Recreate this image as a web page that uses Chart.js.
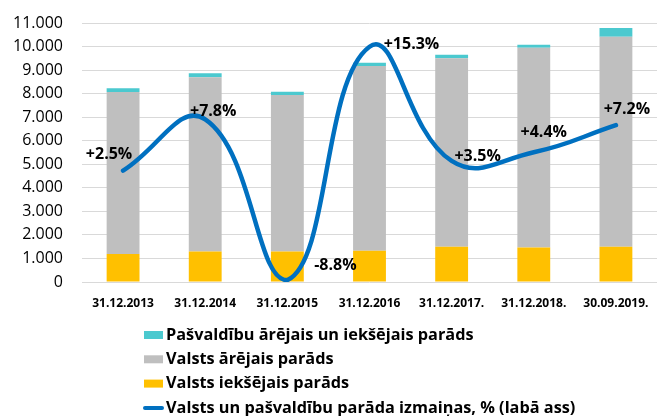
<!DOCTYPE html>
<html>
<head>
<meta charset="utf-8">
<script src="https://cdn.jsdelivr.net/npm/chart.js@4.4.1/dist/chart.umd.min.js"></script>
<style>
  html, body { margin: 0; padding: 0; background: #fff; }
  #wrap { position: relative; width: 657px; height: 416px; }
</style>
</head>
<body>
<div id="wrap"><canvas id="debt"></canvas></div>
<script>
// values in million EUR
const labels = ['31.12.2013', '31.12.2014', '31.12.2015', '31.12.2016', '31.12.2017.', '31.12.2018.', '30.09.2019.']
const domestic = [1190, 1300, 1300, 1330, 1500, 1460, 1500]
const external = [6880, 7400, 6640, 7840, 8000, 8490, 8920]
const municipal = [155, 170, 140, 140, 150, 125, 370]
const change = [2.5, 7.8, -8.8, 15.3, 3.5, 4.4, 7.2]
const yTicks = [0, 1000, 2000, 3000, 4000, 5000, 6000, 7000, 8000, 9000, 10000, 11000]

const colors = {
  yellow: '#ffc000',
  gray: '#bfbfbf',
  cyan: '#4bc9cf',
  blue: '#0070c0'
}
const font = "'Open Sans', sans-serif"

// where each % label sits relative to its point
const labelOffsets = [[-14, -16], [8, -8], [48, -15], [42, -2], [26, -5], [10, -20], [11, -16]]

const pctLabels = {
  id: 'pctLabels',
  afterDatasetsDraw(chart) {
    const ctx = chart.ctx
    const meta = chart.getDatasetMeta(0)
    ctx.save()
    ctx.font = `bold 16px ${font}`
    ctx.fillStyle = '#000'
    ctx.textAlign = 'center'
    ctx.textBaseline = 'middle'
    meta.data.forEach((pt, i) => {
      const v = change[i]
      const txt = (v > 0 ? '+' : '') + v.toFixed(1) + '%'
      ctx.fillText(txt, pt.x + labelOffsets[i][0], pt.y + labelOffsets[i][1])
    })
    ctx.restore()
  }
}

const bottomLegend = {
  id: 'bottomLegend',
  afterDraw(chart) {
    const ctx = chart.ctx
    const items = [
      { text: 'Pašvaldību ārējais un iekšējais parāds', color: colors.cyan, box: true },
      { text: 'Valsts ārējais parāds', color: colors.gray, box: true },
      { text: 'Valsts iekšējais parāds', color: colors.yellow, box: true },
      { text: 'Valsts un pašvaldību parāda izmaiņas, % (labā ass)', color: colors.blue, box: false }
    ]
    ctx.save()
    ctx.font = `bold 16.3px ${font}`
    ctx.textBaseline = 'middle'
    items.forEach((it, i) => {
      const y = 335 + i * 24.3
      if (it.box) {
        ctx.fillStyle = it.color
        ctx.fillRect(144, y - 4, 19, 8)
      } else {
        ctx.strokeStyle = it.color
        ctx.lineWidth = 4
        ctx.lineCap = 'round'
        ctx.beginPath()
        ctx.moveTo(145, y)
        ctx.lineTo(162, y)
        ctx.stroke()
      }
      ctx.fillStyle = '#000'
      ctx.fillText(it.text, 166, y)
    })
    ctx.restore()
  }
}

new Chart(document.getElementById('debt'), {
  data: {
    labels: labels,
    datasets: [{
      type: 'line',
      label: 'Valsts un pašvaldību parāda izmaiņas, % (labā ass)',
      data: change,
      yAxisID: 'y1',
      borderColor: colors.blue,
      borderWidth: 4.5,
      borderCapStyle: 'round',
      pointRadius: 0,
      tension: 0.45,
      fill: false,
      order: 0
    }, {
      type: 'bar',
      label: 'Valsts iekšējais parāds',
      data: domestic,
      backgroundColor: colors.yellow,
      stack: 'debt',
      barPercentage: 0.4,
      categoryPercentage: 1,
      order: 1
    }, {
      type: 'bar',
      label: 'Valsts ārējais parāds',
      data: external,
      backgroundColor: colors.gray,
      stack: 'debt',
      barPercentage: 0.4,
      categoryPercentage: 1,
      order: 1
    }, {
      type: 'bar',
      label: 'Pašvaldību ārējais un iekšējais parāds',
      data: municipal,
      backgroundColor: colors.cyan,
      stack: 'debt',
      barPercentage: 0.4,
      categoryPercentage: 1,
      order: 1
    }]
  },
  options: {
    responsive: true,
    maintainAspectRatio: false,
    animation: false,
    layout: { padding: { top: 23, bottom: 104, left: 0, right: 0 } },
    plugins: {
      legend: { display: false },
      tooltip: { enabled: false }
    },
    scales: {
      x: {
        stacked: true,
        grid: { display: false },
        border: { display: false },
        ticks: {
          color: '#000',
          font: { family: font, size: 12, weight: 'bold' },
          maxRotation: 0,
          autoSkip: false,
          padding: 6
        },
        afterFit(scale) { scale.height = 30 }
      },
      y: {
        stacked: true,
        min: 0,
        max: 11000,
        afterBuildTicks(scale) { scale.ticks = yTicks.map(v => ({ value: v })) },
        // invisible tick marks give the gap between labels and plot
        grid: { color: '#d9d9d9', lineWidth: 1, drawTicks: true, tickLength: 19, tickColor: 'rgba(0,0,0,0)' },
        border: { display: false },
        ticks: {
          color: '#000',
          padding: 0,
          font: { family: font, size: 16 },
          callback: v => v.toLocaleString('de-DE')
        },
        afterFit(scale) { scale.width = 82 }
      },
      y1: {
        display: false,
        position: 'right',
        min: -9,
        max: 17.75,
        grid: { display: false }
      }
    }
  },
  plugins: [pctLabels, bottomLegend]
})
</script>
</body>
</html>
